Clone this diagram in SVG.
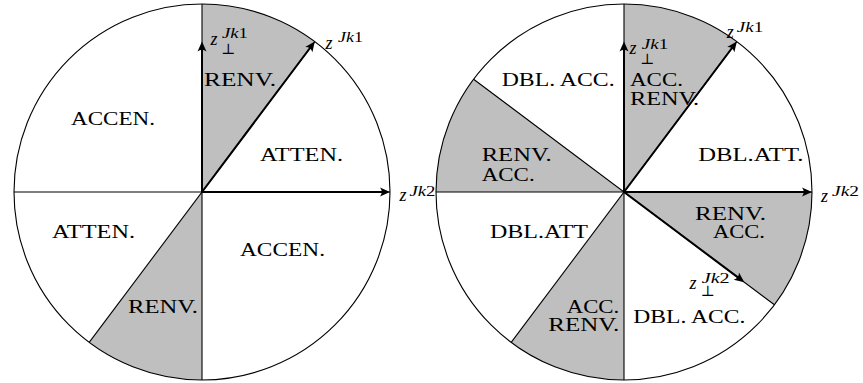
<svg xmlns="http://www.w3.org/2000/svg" width="863" height="383" viewBox="0 0 863 383">
<style>
.bg{fill:#ffffff}
.sec{fill:#bfbfbf;stroke:none}
.rim{fill:none;stroke:#000;stroke-width:1.1}
.thin{fill:none;stroke:#000;stroke-width:1.1}
.arr{fill:none;stroke:#000;stroke-width:2;marker-end:url(#ah)}
.lab{font-family:"Liberation Serif","Times New Roman",serif;font-size:19px;fill:#000}
.mz{font-family:"Liberation Serif","Times New Roman",serif;font-style:italic;font-size:18px;fill:#000}
.ms{font-family:"Liberation Serif","Times New Roman",serif;font-style:italic;font-size:14.5px;fill:#000}
.up{font-style:normal}
.perp{font-family:"DejaVu Serif","DejaVu Sans",serif;font-size:15px;fill:#000}
</style>
<defs>
<marker id="ah" viewBox="-8 -6 12 12" refX="0" refY="0" markerWidth="12" markerHeight="12" markerUnits="userSpaceOnUse" orient="auto">
<path d="M3,0 L-7,-4.5 Q-3.5,0 -7,4.5 Z" fill="#000"/>
</marker>
</defs>
<rect class="bg" x="0" y="0" width="863" height="383"/>

<g id="left-disc">
<path id="l-sec-top" class="sec" d="M202,192 L202,4 A188,188 0 0,1 314.8,41.6 Z"/>
<path id="l-sec-bottom" class="sec" d="M202,192 L202,380 A188,188 0 0,1 89.2,342.4 Z"/>
<circle class="rim" cx="202" cy="192" r="188"/>
<line class="thin" x1="14" y1="192" x2="390" y2="192"/>
<line class="thin" x1="202" y1="4" x2="202" y2="380"/>
<line class="thin" x1="89.2" y1="342.4" x2="314.8" y2="41.6"/>
</g>

<g id="right-disc">
<path id="r-sec-top" class="sec" d="M624,192 L624,4 A188,188 0 0,1 736.8,41.6 Z"/>
<path id="r-sec-left" class="sec" d="M624,192 L436,192 A188,188 0 0,1 473.6,79.2 Z"/>
<path id="r-sec-right" class="sec" d="M624,192 L812,192 A188,188 0 0,1 774.4,304.8 Z"/>
<path id="r-sec-bottom" class="sec" d="M624,192 L624,380 A188,188 0 0,1 511.2,342.4 Z"/>
<circle class="rim" cx="624" cy="192" r="188"/>
<line class="thin" x1="436" y1="192" x2="812" y2="192"/>
<line class="thin" x1="624" y1="4" x2="624" y2="380"/>
<line class="thin" x1="511.2" y1="342.4" x2="736.8" y2="41.6"/>
<line class="thin" x1="473.6" y1="79.2" x2="774.4" y2="304.8"/>
</g>

<g id="connectors">
<line class="arr" x1="202" y1="192" x2="202" y2="44.6"/>
<line class="arr" x1="202" y1="192" x2="387" y2="192"/>
<line class="arr" x1="202" y1="192" x2="313" y2="44"/>
<line class="arr" x1="624" y1="192" x2="624" y2="44.6"/>
<line class="arr" x1="624" y1="192" x2="809" y2="192"/>
<line class="arr" x1="624" y1="192" x2="735" y2="44"/>
<line class="arr" x1="624" y1="192" x2="741.9" y2="280.4"/>
</g>

<g id="left-labels">
<text class="lab" x="71" y="125" textLength="84" lengthAdjust="spacingAndGlyphs">ACCEN.</text>
<text class="lab" x="204" y="86" textLength="72" lengthAdjust="spacingAndGlyphs">RENV.</text>
<text class="lab" x="260" y="161" textLength="83" lengthAdjust="spacingAndGlyphs">ATTEN.</text>
<text class="lab" x="52" y="238" textLength="83" lengthAdjust="spacingAndGlyphs">ATTEN.</text>
<text class="lab" x="240" y="256" textLength="85" lengthAdjust="spacingAndGlyphs">ACCEN.</text>
<text class="lab" x="128" y="313" textLength="70" lengthAdjust="spacingAndGlyphs">RENV.</text>
</g>

<g id="left-vectors">
<text class="mz" x="210.5" y="44.5">z</text>
<text class="ms" x="222" y="38" textLength="26" lengthAdjust="spacingAndGlyphs">Jk<tspan class="up">1</tspan></text>
<text class="perp" x="221" y="53.5">⊥</text>
<text class="mz" x="325.5" y="48.5">z</text>
<text class="ms" x="338" y="41.5" textLength="25" lengthAdjust="spacingAndGlyphs">Jk<tspan class="up">1</tspan></text>
<text class="mz" x="399.5" y="201">z</text>
<text class="ms" x="409.5" y="195.5" textLength="26" lengthAdjust="spacingAndGlyphs">Jk<tspan class="up">2</tspan></text>
</g>

<g id="right-labels">
<text class="lab" x="501.7" y="86" textLength="113" lengthAdjust="spacingAndGlyphs">DBL. ACC.</text>
<text class="lab" x="630" y="86" textLength="53" lengthAdjust="spacingAndGlyphs">ACC.</text>
<text class="lab" x="630" y="104.5" textLength="69" lengthAdjust="spacingAndGlyphs">RENV.</text>
<text class="lab" x="698.3" y="161" textLength="105" lengthAdjust="spacingAndGlyphs">DBL.ATT.</text>
<text class="lab" x="481.7" y="161" textLength="70" lengthAdjust="spacingAndGlyphs">RENV.</text>
<text class="lab" x="481.7" y="181" textLength="53" lengthAdjust="spacingAndGlyphs">ACC.</text>
<text class="lab" x="695" y="220" textLength="71" lengthAdjust="spacingAndGlyphs">RENV.</text>
<text class="lab" x="713" y="238" textLength="52" lengthAdjust="spacingAndGlyphs">ACC.</text>
<text class="lab" x="490" y="238" textLength="98" lengthAdjust="spacingAndGlyphs">DBL.ATT</text>
<text class="lab" x="566.7" y="313" textLength="52.6" lengthAdjust="spacingAndGlyphs">ACC.</text>
<text class="lab" x="548.3" y="331" textLength="71" lengthAdjust="spacingAndGlyphs">RENV.</text>
<text class="lab" x="633.3" y="323" textLength="112" lengthAdjust="spacingAndGlyphs">DBL. ACC.</text>
</g>

<g id="right-vectors">
<text class="mz" x="629.5" y="53.5">z</text>
<text class="ms" x="641.7" y="48.5" textLength="26.5" lengthAdjust="spacingAndGlyphs">Jk<tspan class="up">1</tspan></text>
<text class="perp" x="640" y="63.5">⊥</text>
<text class="mz" x="726.8" y="38">z</text>
<text class="ms" x="736.7" y="31.5" textLength="26.5" lengthAdjust="spacingAndGlyphs">Jk<tspan class="up">1</tspan></text>
<text class="mz" x="821" y="202">z</text>
<text class="ms" x="832" y="196" textLength="27" lengthAdjust="spacingAndGlyphs">Jk<tspan class="up">2</tspan></text>
<text class="mz" x="689.5" y="288.5">z</text>
<text class="ms" x="701.7" y="282.5" textLength="28" lengthAdjust="spacingAndGlyphs">Jk<tspan class="up">2</tspan></text>
<text class="perp" x="700.5" y="295.5">⊥</text>
</g>
</svg>
